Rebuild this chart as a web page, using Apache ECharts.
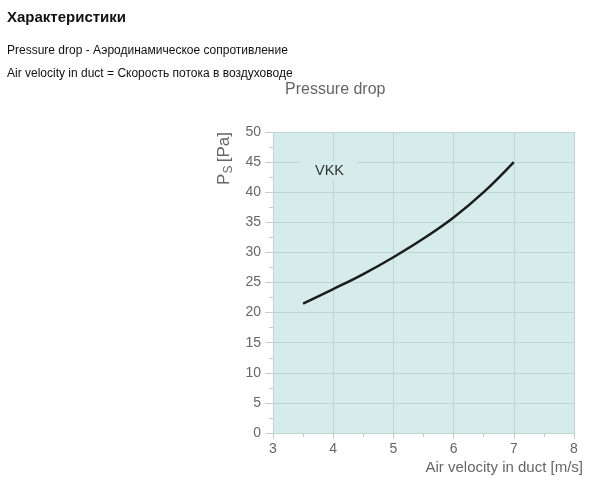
<!DOCTYPE html>
<html>
<head>
<meta charset="utf-8">
<script src="https://cdn.jsdelivr.net/npm/echarts@6/dist/echarts.min.js"></script>
<style>
  html, body { margin: 0; padding: 0; background: #fff; }
  #chart { width: 600px; height: 489px; }
</style>
</head>
<body>
<div id="chart"></div>
<script>
// air velocity [m/s]
var velocity = [3.5, 4, 4.5, 5, 5.5, 6, 6.5, 7]
// static pressure drop [Pa], VKK
var pressure = [21.5, 23.9, 26.4, 29.2, 32.3, 35.8, 40.0, 45]
var seriesName = 'VKK'

var points = velocity.map(function (v, i) { return [v, pressure[i]] })

var gray = '#666'
var plotBg = '#d6ecea'
var gridColor = '#bcd6d3'

var chart = echarts.init(document.getElementById('chart'))
chart.setOption({
  backgroundColor: '#fff',
  animation: false,
  title: [
    { text: 'Характеристики', left: 7, top: 10, padding: 0,
      textStyle: { fontFamily: 'Liberation Sans', fontSize: 15, fontWeight: 'bold', color: '#111' } },
    { text: 'Pressure drop - Аэродинамическое сопротивление', left: 7, top: 45, padding: 0,
      textStyle: { fontFamily: 'Liberation Sans', fontSize: 12, fontWeight: 'normal', color: '#111' } },
    { text: 'Air velocity in duct = Скорость потока в воздуховоде', left: 7, top: 68, padding: 0,
      textStyle: { fontFamily: 'Liberation Sans', fontSize: 12, fontWeight: 'normal', color: '#111' } },
    { text: 'Pressure drop', left: 285, top: 82, padding: 0,
      textStyle: { fontFamily: 'Liberation Sans', fontSize: 16, fontWeight: 'normal', color: gray } }
  ],
  grid: {
    left: 273, right: 26, top: 132, bottom: 56,
    show: true, backgroundColor: plotBg, borderWidth: 0
  },
  xAxis: {
    type: 'value', min: 3, max: 8, interval: 1,
    name: 'Air velocity in duct [m/s]',
    nameLocation: 'end', nameGap: 0,
    nameTextStyle: { fontFamily: 'Liberation Sans', fontSize: 15, color: gray,
      align: 'right', verticalAlign: 'top', padding: [27, -9, 0, 0] },
    axisLine: { show: false },
    axisTick: { show: true, length: 6, lineStyle: { color: '#c4cccb' } },
    minorTick: { show: true, splitNumber: 2, length: 4, lineStyle: { color: '#c4cccb' } },
    axisLabel: { fontFamily: 'Liberation Sans', fontSize: 14, color: gray, margin: 9 },
    splitLine: { show: true, lineStyle: { color: gridColor, width: 1 } }
  },
  yAxis: {
    type: 'value', min: 0, max: 50, interval: 5,
    name: '{p|P}{s|S} {p|[Pa]}',
    nameLocation: 'end', nameRotate: 90, nameGap: 0,
    nameTextStyle: {
      align: 'right', verticalAlign: 'bottom', padding: [0, 0, 38, 0],
      rich: {
        p: { fontFamily: 'Liberation Sans', fontSize: 17, color: gray },
        s: { fontFamily: 'Liberation Sans', fontSize: 12, color: gray, padding: [9, 0, 0, 0] }
      }
    },
    axisLine: { show: false },
    axisTick: { show: true, length: 8, lineStyle: { color: '#c4cccb' } },
    minorTick: { show: true, splitNumber: 2, length: 4, lineStyle: { color: '#c4cccb' } },
    axisLabel: { fontFamily: 'Liberation Sans', fontSize: 14, color: gray, margin: 12 },
    splitLine: { show: true, lineStyle: { color: gridColor, width: 1 } }
  },
  graphic: [
    { type: 'text', left: 300, top: 161, z: 100,
      style: { text: seriesName, fontFamily: 'Liberation Sans', fontSize: 14.5, fill: '#333',
        backgroundColor: plotBg, padding: [2, 13, 2, 15] } }
  ],
  series: [{
    name: seriesName,
    type: 'line',
    data: points,
    smooth: 0.4,
    showSymbol: false,
    lineStyle: { color: '#1c1c1c', width: 2.5 }
  }]
})
</script>
</body>
</html>
